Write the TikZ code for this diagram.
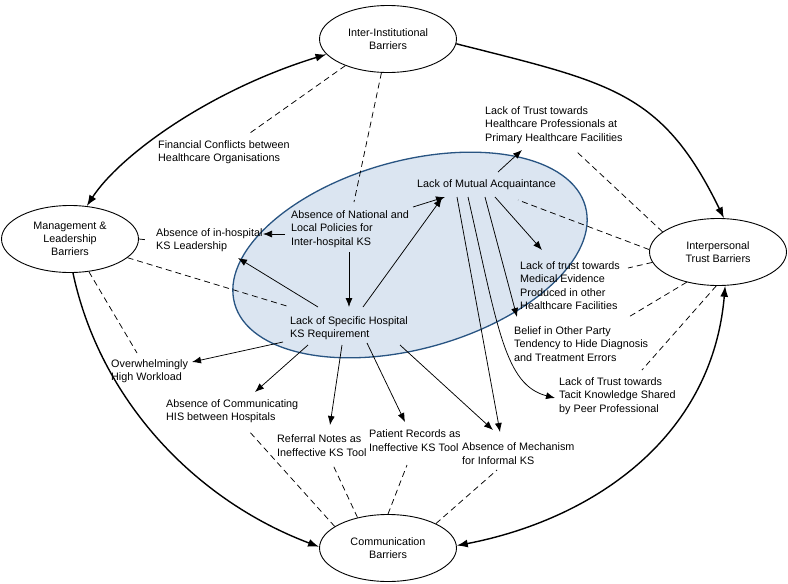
\documentclass[tikz,border=0pt]{standalone}
\usepackage{fontspec}
\setmainfont{Liberation Sans}
\usetikzlibrary{shapes.geometric,arrows.meta}
\definecolor{ellfill}{RGB}{219,229,241}
\definecolor{elldraw}{RGB}{40,84,130}
\begin{document}
\begin{tikzpicture}[x=1pt,y=-1pt,
  lbl/.style={anchor=west,align=left,inner sep=0pt,font=\fontsize{10.8}{13.3}\selectfont},
  barrier/.style={ellipse,draw,fill=white,line width=0.9pt,minimum width=137pt,minimum height=67pt,inner sep=0pt,align=center,font=\fontsize{10.8}{13.3}\selectfont},
  bigarr/.style={line width=1.4pt,-{Latex[length=11pt,width=8pt]}},
  bigboth/.style={line width=1.4pt,{Latex[length=11pt,width=8pt]}-{Latex[length=11pt,width=8pt]}},
  arr/.style={line width=0.75pt,-{Latex[length=9pt,width=7pt]}},
  dashln/.style={line width=0.75pt,dash pattern=on 6pt off 4pt}
]
\useasboundingbox (0,0) rectangle (788,584);
% central cluster
\draw[fill=ellfill,draw=elldraw,line width=1.3pt,rotate around={15.5:(410,255)}] (410,255) ellipse [x radius=182pt, y radius=94pt];

% barrier categories
\node[barrier] (inter) at (388,39) {Inter-Institutional\\Barriers};
\node[barrier] (mgmt) at (70,239) {Management \&\\Leadership\\Barriers};
\node[barrier] (interp) at (718,252) {Interpersonal\\Trust Barriers};
\node[barrier] (comm) at (388,548) {Communication\\Barriers};

% factors
\node[lbl] (fin) at (158,152.5) {Financial Conflicts between\\Healthcare Organisations};
\node[lbl] (inhosp) at (156,240) {Absence of in-hospital\\KS Leadership};
\node[lbl] (natpol) at (291,229) {Absence of National and\\Local Policies for\\Inter-hospital KS};
\node[lbl] (mutual) at (417,185) {Lack of Mutual Acquaintance};
\node[lbl] (trustprim) at (485,125) {Lack of Trust towards\\Healthcare Professionals at\\Primary Healthcare Facilities};
\node[lbl] (trustmed) at (520,285.5) {Lack of trust towards\\Medical Evidence\\Produced in other\\Healthcare Facilities};
\node[lbl] (belief) at (514,344) {Belief in Other Party\\Tendency to Hide Diagnosis\\and Treatment Errors};
\node[lbl] (tacit) at (559,396) {Lack of Trust towards\\Tacit Knowledge Shared\\by Peer Professional};
\node[lbl] (spec) at (290,328.5) {Lack of Specific Hospital\\KS Requirement};
\node[lbl] (workload) at (111,371.5) {Overwhelmingly\\High Workload};
\node[lbl] (his) at (166,411.5) {Absence of Communicating\\HIS between Hospitals};
\node[lbl] (referral) at (277,445.5) {Referral Notes as\\Ineffective KS Tool};
\node[lbl] (patient) at (369,440.5) {Patient Records as\\Ineffective KS Tool};
\node[lbl] (mech) at (462,453.5) {Absence of Mechanism\\for Informal KS};

% outer cycle
\draw[bigboth] (inter.194) .. controls (210,90) and (120,155) .. (mgmt.63);
\draw[bigarr] (inter.-4) .. controls (611,83) and (662,91) .. (interp.80);
\draw[bigarr] (mgmt.-85) .. controls (100,400) and (195,500) .. (comm.179);
\draw[bigboth] (comm.2) .. controls (590,520) and (712,440) .. (interp.-78);

% causal arrows
\draw[arr] ([xshift=-6pt,yshift=-5pt]natpol.west) -- ([xshift=107pt,yshift=6pt]inhosp.west);
\draw[arr] ([xshift=122pt,yshift=22pt]natpol.west) -- ([xshift=28pt,yshift=-12pt]mutual.west);
\draw[arr] ([xshift=58pt,yshift=-23pt]natpol.west) -- ([xshift=59pt,yshift=21.5pt]spec.west);
\draw[arr] ([xshift=73pt,yshift=21.5pt]spec.west) -- ([xshift=25pt,yshift=-13pt]mutual.west);
\draw[arr] ([xshift=28pt,yshift=21.5pt]spec.west) -- ([xshift=82pt,yshift=-18pt]inhosp.west);
\draw[arr] ([xshift=81pt,yshift=13pt]mutual.west) -- ([xshift=37pt,yshift=-25pt]trustprim.west);
\draw[arr] ([xshift=78pt,yshift=-12pt]mutual.west) -- ([xshift=22pt,yshift=35.5pt]trustmed.west);
\draw[arr] ([xshift=68pt,yshift=-12pt]mutual.west) -- ([xshift=3pt,yshift=27pt]belief.west);
\draw[arr] ([xshift=51pt,yshift=-12pt]mutual.west) .. controls (498,329) and (505,385) .. ([xshift=-4pt,yshift=-2pt]tacit.west);
\draw[arr] ([xshift=40pt,yshift=-12pt]mutual.west) -- ([xshift=38pt,yshift=21.5pt]mech.west);
\draw[arr] ([xshift=-7pt,yshift=-13.5pt]spec.west) -- ([xshift=81pt,yshift=9.5pt]workload.west);
\draw[arr] ([xshift=18pt,yshift=-16.5pt]spec.west) -- ([xshift=89pt,yshift=19.5pt]his.west);
\draw[arr] ([xshift=52pt,yshift=-16.5pt]spec.west) -- ([xshift=53pt,yshift=20.5pt]referral.west);
\draw[arr] ([xshift=77pt,yshift=-14.5pt]spec.west) -- ([xshift=36pt,yshift=18.5pt]patient.west);
\draw[arr] ([xshift=110pt,yshift=-16.5pt]spec.west) -- ([xshift=31pt,yshift=23.5pt]mech.west);

% category membership
\draw[dashln] (inter.212) -- ([xshift=92pt,yshift=19.5pt]fin.west);
\draw[dashln] (inter.259) -- ([xshift=63pt,yshift=27pt]natpol.west);
\draw[dashln] (mgmt.east) -- ([xshift=-8pt]inhosp.west);
\draw[dashln] (mgmt.-18) -- ([yshift=21.5pt]spec.west);
\draw[dashln] (mgmt.-60) -- ([xshift=26pt,yshift=18.5pt]workload.west);
\draw[dashln] (interp.160) -- ([xshift=92pt,yshift=-27pt]trustprim.west);
\draw[dashln] (interp.178) -- ([xshift=101pt,yshift=-15pt]mutual.west);
\draw[dashln] (interp.189) -- ([xshift=108pt,yshift=17.5pt]trustmed.west);
\draw[dashln] (interp.224) -- ([xshift=113pt,yshift=26pt]belief.west);
\draw[dashln] (interp.267) -- ([xshift=83pt,yshift=26pt]tacit.west);
\draw[dashln] (comm.158) -- ([xshift=82pt,yshift=-18.5pt]his.west);
\draw[dashln] (comm.135) -- ([xshift=56pt,yshift=-19.5pt]referral.west);
\draw[dashln] (comm.90) -- ([xshift=38pt,yshift=-24.5pt]patient.west);
\draw[dashln] (comm.27) -- ([xshift=35pt,yshift=-16.5pt]mech.west);
\end{tikzpicture}
\end{document}
